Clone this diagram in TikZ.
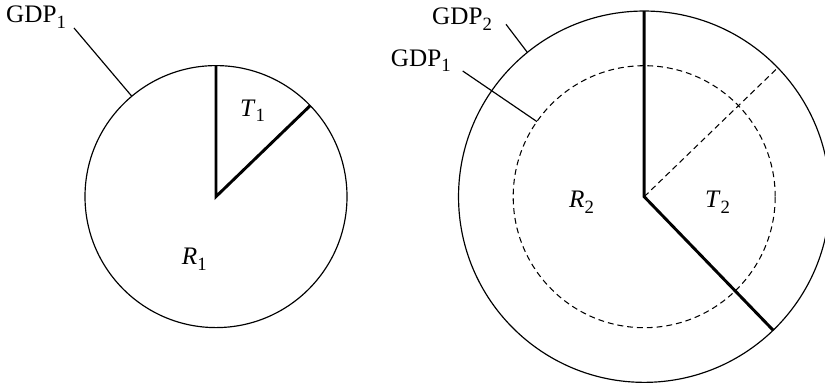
\documentclass[tikz,border=0pt]{standalone}
\usepackage{fontspec}
\setmainfont{Liberation Serif}
\usepackage{tikz}
\newcommand{\lbl}[2]{#1\raisebox{-4.4pt}{\fontsize{16}{16}\selectfont #2}}

\begin{document}
\begin{tikzpicture}[x=0.3mm, y=0.3mm,
        rim/.style={circle, draw, line width=1pt, inner sep=0pt, outer sep=0pt},
        share/.style={line width=2.5pt, line join=miter},
        lead/.style={line width=1pt},
        lab/.style={anchor=base west, inner sep=0pt, font=\fontsize{21.5}{25}\selectfont}]
        \useasboundingbox (0,0) rectangle (825,386);
        \clip (0,0) rectangle (825,386);

        % before: one economy
        \node[rim, minimum size=78.6mm] (left) at (216,189.4) {};
        \draw[share] (left.90) -- (left.center) -- (left.44);
        \node[lab] (t1) at (240,269.3) {\lbl{\textit{T}}{1}};
        \node[lab] (r1) at (181.7,121) {\lbl{\textit{R}}{1}};
        \node[lab] (gdpL) at (6,363) {\lbl{GDP}{1}};
        \coordinate (gdpLend) at (74,358);
        \draw[lead] (gdpLend) -- (left.130);

        % after: grown economy
        \node[rim, minimum size=111.4mm] (outer) at (644.2,189.3) {};
        \node[rim, minimum size=78.6mm, line width=0.9pt, dash pattern=on 5pt off 3.4pt] (inner) at (outer.center) {};
        \draw[share] (outer.90) -- (outer.center) -- (outer.-46);
        \draw[line width=0.9pt, dash pattern=on 5pt off 3.4pt] (outer.center) -- (outer.44);
        \node[lab] (r2) at (569,178) {\lbl{\textit{R}}{2}};
        \node[lab] (t2) at (705,178) {\lbl{\textit{T}}{2}};
        \node[lab] (gdpO) at (432,361) {\lbl{GDP}{2}};
        \node[lab] (gdpI) at (390.7,319.3) {\lbl{GDP}{1}};
        \coordinate (gdpOend) at (506,361.7);
        \coordinate (gdpIend) at (462.7,315);
        \draw[lead] (gdpOend) -- (outer.129);
        \draw[lead] (gdpIend) -- (inner.145);
    \end{tikzpicture}
\end{document}
